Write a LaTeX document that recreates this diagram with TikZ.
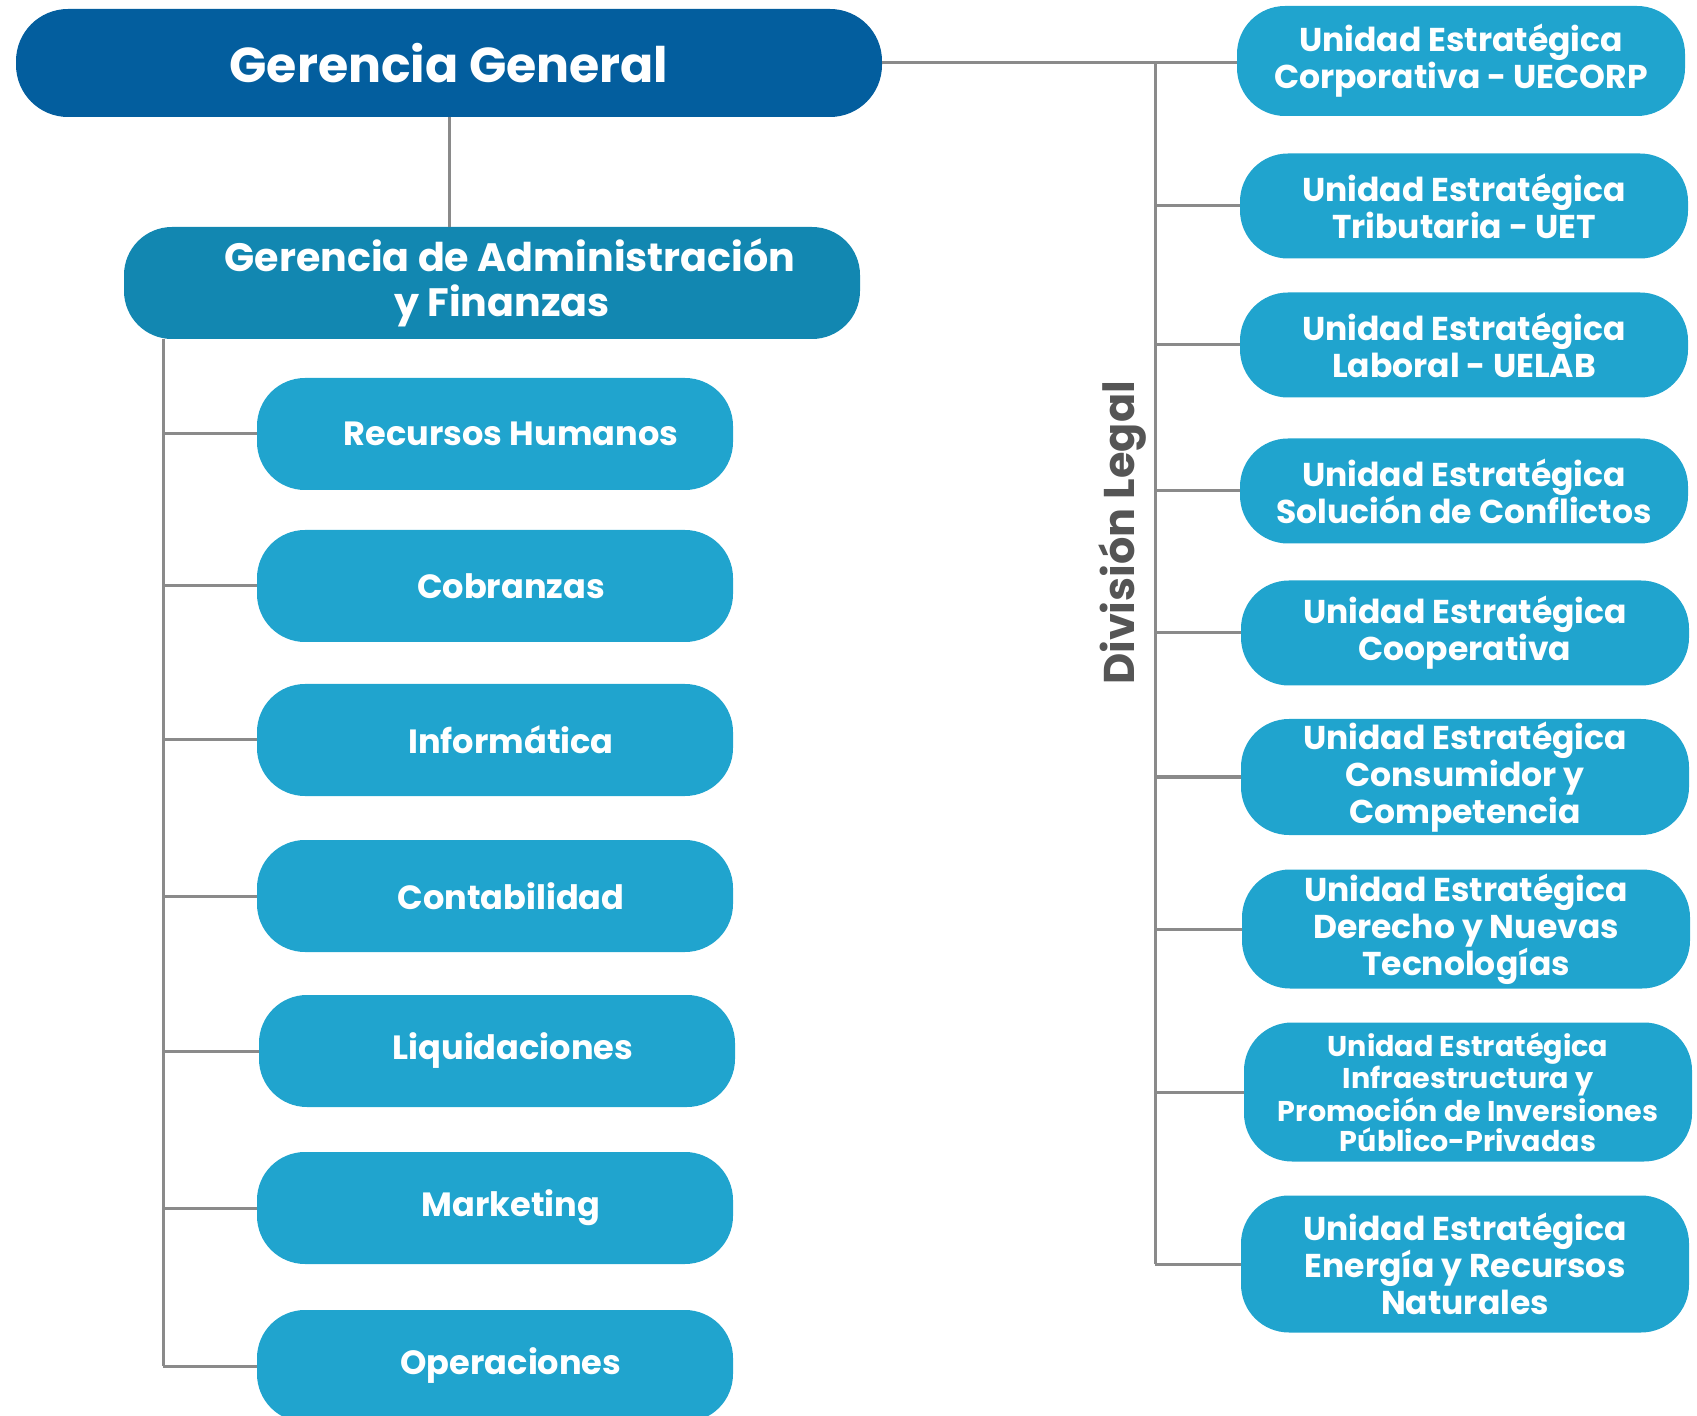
\documentclass[tikz,border=0pt]{standalone}
\usepackage{fontspec}
\setmainfont{Poppins}
\definecolor{azulgg}{RGB}{3,94,158}
\definecolor{azulgaf}{RGB}{18,135,177}
\definecolor{celeste}{RGB}{32,164,206}
\definecolor{lineagris}{RGB}{138,138,138}
\definecolor{textogris}{RGB}{85,85,85}
\tikzset{
  caja/.style={fill=celeste, rounded corners=24pt, text=white, align=center, inner sep=0pt},
  area/.style={fill=celeste, rounded corners=24pt, text=white, inner sep=0pt,
    minimum width=238pt, minimum height=56pt, font=\bfseries\fontsize{16.8}{19}\selectfont,
    execute at begin node=\hspace*{16pt}},
  unidad/.style={caja, minimum width=224pt, font=\bfseries\fontsize{16.5}{18.5}\selectfont},
  conector/.style={draw=lineagris, line width=1.5pt},
}
\begin{document}
\begin{tikzpicture}[x=0.5pt,y=-0.5pt]
\useasboundingbox (0,0) rectangle (1697,1416);
% gerencias
\node[caja, fill=azulgg, minimum width=433pt, minimum height=54pt, rounded corners=26pt,
  font=\bfseries\fontsize{24.5}{26}\selectfont] (gg) at (449,63) {Gerencia General};
\node[caja, fill=azulgaf, minimum width=368pt, minimum height=56pt,
  font=\bfseries\fontsize{19.8}{22.5}\selectfont] (gaf) at (492,283) {\hspace*{18pt}Gerencia de Administración\\\hspace*{10pt}y Finanzas};
% areas de administracion
\node[area] (rrhh) at (495,434) {Recursos Humanos};
\node[area] (cobr) at (495,586) {Cobranzas};
\node[area] (info) at (495,740) {Informática};
\node[area] (cont) at (495,896) {Contabilidad};
\node[area] (liqu) at (497,1051) {Liquidaciones};
\node[area] (mark) at (495,1208) {Marketing};
\node[area] (oper) at (495,1366) {Operaciones};
% unidades estrategicas
\node[unidad, minimum height=55pt] (uecorp) at (1461,61) {Unidad Estratégica\\Corporativa - UECORP};
\node[unidad, minimum height=52.5pt] (uet) at (1464,206) {Unidad Estratégica\\Tributaria - UET};
\node[unidad, minimum height=52.5pt] (uelab) at (1464,345) {Unidad Estratégica\\Laboral - UELAB};
\node[unidad, minimum height=52.5pt] (uesc) at (1464,491) {Unidad Estratégica\\Solución de Conflictos};
\node[unidad, minimum height=52.5pt] (uecoop) at (1465,633) {Unidad Estratégica\\Cooperativa};
\node[unidad, minimum height=58pt] (uecons) at (1465,777) {Unidad Estratégica\\Consumidor y\\Competencia};
\node[unidad, minimum height=59.5pt] (uednt) at (1466,929) {Unidad Estratégica\\Derecho y Nuevas\\Tecnologías};
\node[unidad, minimum height=69.5pt, font=\bfseries\fontsize{14.3}{14.8}\selectfont] (ueinfra) at (1468,1092) {Unidad Estratégica\\Infraestructura y\\Promoción de Inversiones\\Público-Privadas};
\node[unidad, minimum height=68.5pt] (ueener) at (1465,1264) {Unidad Estratégica\\Energía y Recursos\\Naturales};
\node[rotate=90, text=textogris, font=\bfseries\fontsize{21.5}{22}\selectfont] (legal) at (1122,533) {División Legal};
% conectores
\coordinate (troncoA) at (163,339);
\coordinate (troncoB) at (1155,63);
\draw[conector] (gg.south) -- (gg.south |- gaf.north);
\draw[conector] (gg.east) -- (gg.east -| uecorp.west);
\draw[conector] (troncoA) -- (troncoA |- oper.west);
\foreach \n in {rrhh,cobr,info,cont,liqu,mark,oper}
  \draw[conector] (troncoA |- \n.west) -- (\n.west);
\draw[conector] (troncoB) -- (troncoB |- ueener.west);
\foreach \n in {uet,uelab,uesc,uecoop,uecons,uednt,ueinfra,ueener}
  \draw[conector] (troncoB |- \n.west) -- (\n.west);
\end{tikzpicture}
\end{document}
